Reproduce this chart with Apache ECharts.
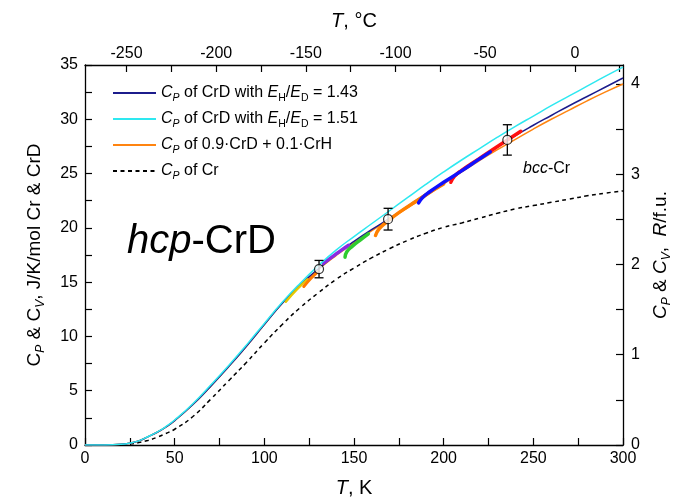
<!DOCTYPE html>
<html>
<head>
<meta charset="utf-8">
<script src="https://cdn.jsdelivr.net/npm/echarts@6/dist/echarts.min.js"></script>
<style>html,body{margin:0;padding:0;background:#fff;}#c{width:686px;height:498px;}</style>
</head>
<body>
<div id="c"></div>
<script>
// ---- data ----
const temps = [0,10,20,25,30,35,40,45,50,60,70,80,90,100,110,120,130,140,150,160,170,180,190,200,210,220,230,240,250,260,270,280,290,300];
const cpCrD143 = [0,0.005,0.06,0.17,0.38,0.75,1.15,1.65,2.25,3.7,5.4,7.2,9.1,11.1,13.05,14.75,16.2,17.55,18.75,19.85,20.9,22.0,23.1,24.15,25.2,26.35,27.45,28.5,29.45,30.35,31.25,32.1,32.95,33.8];
const cpCrD151 = [0,0.005,0.06,0.17,0.38,0.76,1.17,1.68,2.3,3.78,5.5,7.3,9.2,11.2,13.15,14.9,16.5,17.95,19.2,20.4,21.6,22.8,24.0,25.15,26.25,27.3,28.35,29.35,30.3,31.25,32.15,33.05,33.95,34.8];
const cpMix = [0,0.005,0.06,0.17,0.38,0.75,1.15,1.65,2.25,3.7,5.4,7.2,9.1,11.1,13.05,14.7,16.15,17.45,18.65,19.75,20.8,21.85,22.9,24.05,25.15,26.2,27.2,28.15,29.1,30.0,30.85,31.7,32.5,33.25];
const cpCr = [0,0.005,0.04,0.1,0.22,0.42,0.7,1.05,1.45,2.6,4.2,5.9,7.6,9.4,11.1,12.65,14.0,15.25,16.3,17.25,18.1,18.85,19.5,20.05,20.45,20.9,21.35,21.75,22.05,22.35,22.65,22.95,23.2,23.4];
// short measured segments [T, C]
const segYellow = [[112,13.2],[118,14.3],[124,15.25]];
const segOrangeLow = [[122,14.6],[126,15.35],[130,16.0]];
const segPurple = [[133,16.75],[138,17.35],[143,17.95],[147,18.4]];
const segGreen = [[145,17.3],[146,17.8],[149,18.3],[154,18.95],[158,19.45]];
const segOrange = [[162,19.3],[164,19.9],[168,20.5],[175,21.4],[185,22.5],[195,23.55],[200,24.05]];
const segRed = [[204,24.2],[206,24.75],[210,25.3],[220,26.4],[230,27.5],[243,28.9]];
const segBlue = [[186,22.3],[188,22.75],[192,23.3],[200,24.2],[210,25.25],[220,26.35],[226,27.0]];
// points with error bars
const errT = [130.5, 169, 235.5];
const errC = [16.2, 20.8, 28.1];
const errD = [0.8, 1.0, 1.4];
// ticks
const kLabels = [0,50,100,150,200,250,300];
const kTicks = [0,25,50,75,100,125,150,175,200,225,250,275,300];
const cLabels = [-250,-200,-150,-100,-50,0];
const cTicks = [-250,-225,-200,-175,-150,-125,-100,-75,-50,-25,0,25];
const jLabels = [0,5,10,15,20,25,30,35];
const jTicks = [0,2.5,5,7.5,10,12.5,15,17.5,20,22.5,25,27.5,30,32.5,35];
const rLabels = [0,1,2,3,4];
const rTicks = [0,0.5,1,1.5,2,2.5,3,3.5,4];
const Rgas = 8.314;

const FF = 'Liberation Sans, Arial, sans-serif';
const pair = (a, b) => a.map((v, i) => [v, b[i]]);

function richSet(fs, sfs) {
  return {
    n: {fontSize: fs, fontFamily: FF, color: '#000', lineHeight: fs + 5},
    i: {fontSize: fs, fontFamily: FF, color: '#000', fontStyle: 'italic', lineHeight: fs + 5},
    si: {fontSize: sfs, fontFamily: FF, color: '#000', fontStyle: 'italic', lineHeight: sfs, verticalAlign: 'bottom'},
    su: {fontSize: sfs, fontFamily: FF, color: '#000', lineHeight: sfs, verticalAlign: 'bottom'}
  };
}

const names = {a: 'CrD 1.43', b: 'CrD 1.51', c: 'mix', d: 'Cr'};
const legendText = {
  'CrD 1.43': '{i|C}{si|P}{n| of CrD with }{i|E}{su|H}{n|/}{i|E}{su|D}{n| = 1.43}',
  'CrD 1.51': '{i|C}{si|P}{n| of CrD with }{i|E}{su|H}{n|/}{i|E}{su|D}{n| = 1.51}',
  'mix': '{i|C}{si|P}{n| of 0.9·CrD + 0.1·CrH}',
  'Cr': '{i|C}{si|P}{n| of Cr}'
};

const segStyle = (data, color, w) => ({
  type: 'line', data: data, symbol: 'none', smooth: true, silent: true,
  lineStyle: {color: color, width: w, cap: 'round'}, z: 3
});

const axisCommon = {
  axisLine: {show: true, onZero: false, lineStyle: {color: '#000', width: 1.3}},
  splitLine: {show: false},
  axisTick: {inside: true, length: 7, lineStyle: {color: '#000', width: 1.2}},
  axisLabel: {fontSize: 16, fontFamily: FF, color: '#000'}
};

const chart = echarts.init(document.getElementById('c'));
chart.setOption({
  animation: false,
  grid: {left: 85, right: 63, top: 65, bottom: 53, containLabel: false, outerBoundsMode: 'none'},
  legend: {
    data: [names.a, names.b, names.c, names.d].map(n => ({name: n, itemStyle: {opacity: 0}})),
    orient: 'vertical', left: 107, top: 80,
    itemWidth: 43, itemHeight: 14, itemGap: 7.5,
    formatter: n => legendText[n],
    textStyle: {rich: richSet(16, 10.5)}
  },
  xAxis: [
    Object.assign({}, axisCommon, {
      type: 'value', position: 'bottom', min: 0, max: 300,
      axisTick: Object.assign({}, axisCommon.axisTick, {customValues: kTicks}),
      axisLabel: Object.assign({}, axisCommon.axisLabel, {customValues: kLabels, margin: 6}),
      name: '{i|T}{n|, K}', nameLocation: 'middle', nameGap: 31,
      nameTextStyle: {rich: richSet(20, 13)}
    }),
    Object.assign({}, axisCommon, {
      type: 'value', position: 'top', min: -273.15, max: 26.85,
      axisTick: Object.assign({}, axisCommon.axisTick, {customValues: cTicks}),
      axisLabel: Object.assign({}, axisCommon.axisLabel, {customValues: cLabels, margin: 3}),
      name: '{i|T}{n|, °C}', nameLocation: 'middle', nameGap: 31,
      nameTextStyle: {rich: richSet(20, 13)}
    })
  ],
  yAxis: [
    Object.assign({}, axisCommon, {
      type: 'value', position: 'left', min: 0, max: 35,
      axisTick: Object.assign({}, axisCommon.axisTick, {customValues: jTicks}),
      axisLabel: Object.assign({}, axisCommon.axisLabel, {customValues: jLabels, margin: 7}),
      name: '{n|C}{si|P}{n| & C}{si|V}{n|, J/K/mol Cr & CrD}', nameLocation: 'middle', nameGap: 38, nameRotate: 90,
      nameTextStyle: {rich: richSet(19, 12)}
    }),
    Object.assign({}, axisCommon, {
      type: 'value', position: 'right', min: 0, max: 35 / Rgas,
      axisTick: Object.assign({}, axisCommon.axisTick, {customValues: rTicks}),
      axisLabel: Object.assign({}, axisCommon.axisLabel, {customValues: rLabels, margin: 8}),
      name: '{i|C}{si|P}{n| & }{i|C}{si|V}{n|,  }{i|R}{n|/f.u.}', nameLocation: 'middle', nameGap: 26, nameRotate: 90,
      nameTextStyle: {rich: richSet(19, 12)}
    })
  ],
  graphic: [
    {type: 'text', x: 127, y: 242, silent: true,
     style: {text: '{i|hcp}{n|-CrD}', verticalAlign: 'middle', rich: {
       i: {fontSize: 40, fontFamily: FF, fontStyle: 'italic', color: '#000'},
       n: {fontSize: 40, fontFamily: FF, color: '#000'}}}},
    {type: 'text', x: 523, y: 169, silent: true,
     style: {text: '{i|bcc}{n|-Cr}', verticalAlign: 'middle', rich: {
       i: {fontSize: 16, fontFamily: FF, fontStyle: 'italic', color: '#000'},
       n: {fontSize: 16, fontFamily: FF, color: '#000'}}}}
  ],
  series: [
    {name: names.d, type: 'line', data: pair(temps, cpCr), symbol: 'none', smooth: true,
     lineStyle: {color: '#000', width: 1.5, type: [4, 3.5]}, itemStyle: {color: '#000'}, z: 2},
    {name: names.c, type: 'line', data: pair(temps, cpMix), symbol: 'none', smooth: true,
     lineStyle: {color: '#ff8410', width: 1.5}, itemStyle: {color: '#ff8410'}, z: 2},
    {name: names.a, type: 'line', data: pair(temps, cpCrD143), symbol: 'none', smooth: true,
     lineStyle: {color: '#1c1c8c', width: 1.5}, itemStyle: {color: '#1c1c8c'}, z: 2},
    segStyle(segYellow, '#e6c800', 2.5),
    segStyle(segOrangeLow, '#ff7a00', 3),
    segStyle(segPurple, '#8a2be2', 3.5),
    segStyle(segGreen, '#2ecc2e', 3.5),
    segStyle(segOrange, '#ff8000', 3.5),
    segStyle(segRed, '#ff1010', 3.5),
    segStyle(segBlue, '#1010ff', 3.5),
    {name: names.b, type: 'line', data: pair(temps, cpCrD151), symbol: 'none', smooth: true,
     lineStyle: {color: '#2ee8f0', width: 1.5}, itemStyle: {color: '#2ee8f0'}, z: 4},
    {type: 'custom', silent: true, z: 5,
     data: errT.map((t, i) => [t, errC[i], errD[i]]),
     renderItem: function (params, api) {
       const x = api.value(0), y = api.value(1), d = api.value(2);
       const top = api.coord([x, y + d]), bot = api.coord([x, y - d]);
       const hw = 4.5;
       const st = {stroke: '#000', lineWidth: 1.3};
       return {type: 'group', children: [
         {type: 'line', shape: {x1: top[0], y1: top[1], x2: bot[0], y2: bot[1]}, style: st},
         {type: 'line', shape: {x1: top[0] - hw, y1: top[1], x2: top[0] + hw, y2: top[1]}, style: st},
         {type: 'line', shape: {x1: bot[0] - hw, y1: bot[1], x2: bot[0] + hw, y2: bot[1]}, style: st}
       ]};
     }},
    {type: 'scatter', silent: true, z: 6, symbol: 'circle', symbolSize: 9,
     data: pair(errT, errC),
     itemStyle: {color: '#fff', borderColor: '#000', borderWidth: 1.2}}
  ]
});
</script>
</body>
</html>
